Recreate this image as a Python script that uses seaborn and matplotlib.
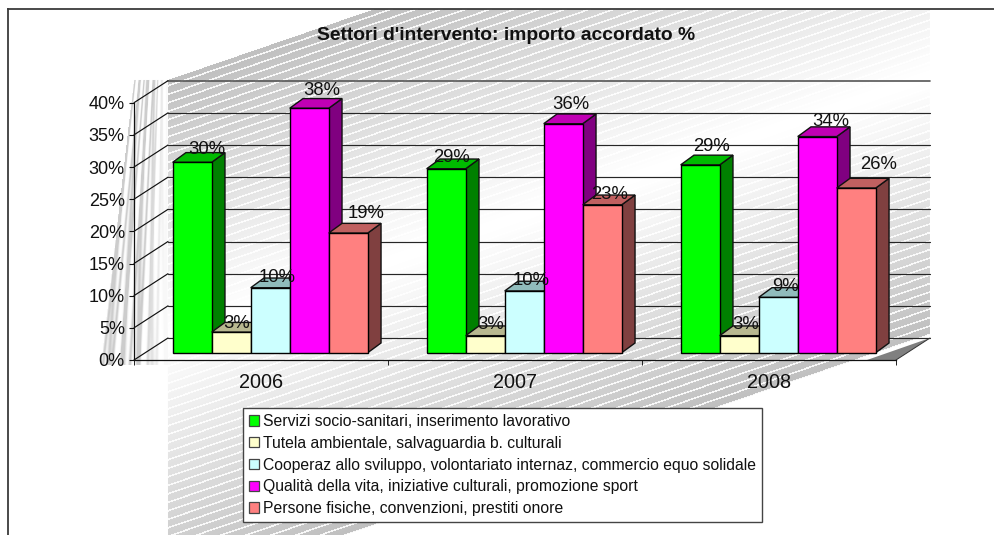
import numpy as np
import pandas as pd
import matplotlib
matplotlib.use("Agg")
import matplotlib.pyplot as plt
import matplotlib.transforms as mtrans
from matplotlib.patches import Polygon
import seaborn as sns

anni = ["2006", "2007", "2008"]
settori = [
    "Servizi socio-sanitari, inserimento lavorativo",
    "Tutela ambientale, salvaguardia b. culturali",
    "Cooperaz allo sviluppo, volontariato internaz, commercio equo solidale",
    "Qualità della vita, iniziative culturali, promozione sport",
    "Persone fisiche, convenzioni, prestiti onore",
]
servizi = [29.6, 28.6, 29.2]
tutela = [3.2, 2.65, 2.65]
cooperaz = [10.1, 9.6, 8.6]
qualita = [38.0, 35.6, 33.6]
persone = [18.6, 23.0, 25.6]
serie = [servizi, tutela, cooperaz, qualita, persone]

col_front = ["#00ff00", "#ffffcc", "#ccffff", "#ff00ff", "#ff8080"]
col_top = ["#00bb00", "#b8b890", "#90bcbc", "#c000b4", "#c06060"]
col_side = ["#008000", "#808066", "#668080", "#800080", "#804040"]
# label offsets from bar top-centre, pixels (one row per series, one column per year)
lab_dx = [[14, 5, 11], [5, 5, 6], [6, 6, 6.5], [12, 6.5, 13], [17, 6.5, 21.7]]
lab_dy = [[13, 11, 18], [9, 10.7, 10.7], [10, 10, 10.7], [17.6, 19, 15], [20, 10, 24]]

W, H = 995, 535
DPI = 100
sns.set_theme(style="ticks")
plt.rcParams["font.family"] = ["Liberation Sans", "DejaVu Sans"]
fig = plt.figure(figsize=(W / DPI, H / DPI), dpi=DPI, facecolor="white")

# ---- textured backdrop (decoration only)
yy, xx = np.mgrid[0:H, 0:W] + 0.5
img = np.ones((H, W))
band = (yy + 0.343 * (xx - 168) - 338) / 258
stripe = ((yy + 0.343 * (xx - 168)) % 8.5) < 1.7
tex = 1 - 0.25 * np.clip(np.abs(band), 0, 1) ** 1.1
tex = np.where(stripe, 1 - 0.03 * np.abs(band), tex)
inside = (xx >= 168) & (xx <= 930) & (np.abs(band) <= 1) & (yy >= 9)
img[inside] = tex[inside]
w_side = 34 + 33 * (yy - 80) / 285
u = (168 - xx) / w_side
side = (xx < 168) & (u <= 1) & (yy >= 80) & (yy <= 365)
streak = (0.5 + 0.5 * np.sin(u * 47)) ** 3 + (0.5 + 0.5 * np.sin(u * 29 + 1.3 + yy / 60)) ** 4
side_v = 1 - 0.2 * np.clip(streak, 0, 1) * np.clip(u * 2.4, 0.15, 1)
img[side] = side_v[side]
bg = fig.add_axes([0, 0, 1, 1], zorder=0)
bg.imshow(img, cmap="gray", vmin=0, vmax=1, extent=(0, W, H, 0), aspect="auto",
          interpolation="bilinear")
bg.add_patch(Polygon([(867, 360), (896, 360), (930, 338)], closed=True,
                     facecolor="#808080", edgecolor="none"))
bg.set_xlim(0, W)
bg.set_ylim(H, 0)
bg.axis("off")
for xs, ys in (([8, 8], [9, H]), ([8, W], [9, 9])):
    bg.plot(xs, ys, color="#3a3a3a", lw=1.3, clip_on=False, solid_capstyle="projecting")

# ---- chart axes: the front plane of the 3-D box
ax = fig.add_axes([134 / W, 1 - 360 / H, 762 / W, 257.3 / H], zorder=1)
ax.patch.set_alpha(0)
df = pd.DataFrame(
    [(a, s, v[i]) for s, v in zip(settori, serie) for i, a in enumerate(anni)],
    columns=["anno", "settore", "valore"],
)
sns.barplot(data=df, x="anno", y="valore", hue="settore", order=anni, hue_order=settori,
            palette=col_front, width=0.768, gap=0, saturation=1, edgecolor="black",
            linewidth=1.0, errorbar=None, ax=ax)
ax.set_xlim(-0.5, 2.5)
ax.set_ylim(0, 40)
ax.set_xlabel("")
ax.set_ylabel("")

px_x = 254.0  # pixels per category
px_y = 257.3 / 40  # pixels per percent
wall_dx, wall_dy = 34 / px_x, 22 / px_y
depth_dx, depth_dy = 13.3 / px_x, 9.7 / px_y

# walls: grid lines on the side and back planes
yticks = list(range(0, 45, 5))
for y in yticks:
    col, lw = ("#555555", 1.2) if y == 40 else ("#262626", 0.85)
    ax.plot([-0.5 + wall_dx, 2.5 + wall_dx], [y + wall_dy] * 2, color=col, lw=lw,
            clip_on=False, zorder=1)
    ax.plot([-0.5, -0.5 + wall_dx], [y, y + wall_dy], color="#111111", lw=0.85,
            clip_on=False, zorder=1)
ax.plot([2.5, 2.5 + wall_dx], [0, wall_dy], color="#333333", lw=0.7, clip_on=False, zorder=1)

# bars stand a little behind the front plane
bar_trans = mtrans.offset_copy(ax.transData, fig=fig, x=9.2, y=7.3, units="dots")
z = 3
for s, cont in enumerate(ax.containers):
    for i, bar in enumerate(cont):
        x0, w, h = bar.get_x(), bar.get_width(), bar.get_height()
        x1 = x0 + w
        edge = dict(edgecolor="#111111", linewidth=1.0, clip_on=False, transform=bar_trans,
                    joinstyle="miter")
        ax.add_patch(Polygon([(x1, 0), (x1 + depth_dx, depth_dy), (x1 + depth_dx, h + depth_dy), (x1, h)],
                             closed=True, facecolor=col_side[s], zorder=z + i * 100, **edge))
        ax.add_patch(Polygon([(x0, h), (x0 + depth_dx, h + depth_dy), (x1 + depth_dx, h + depth_dy), (x1, h)],
                             closed=True, facecolor=col_top[s], zorder=z + i * 100 + 1, **edge))
        bar.set_transform(bar_trans)
        bar.set_clip_on(False)
        bar.set_zorder(z + i * 100 + 2)
        ax.annotate(f"{h:.0f}%", xy=(x0 + w / 2, h), xycoords=bar_trans,
                    xytext=(lab_dx[s][i] + 0.8, lab_dy[s][i]), textcoords="offset pixels",
                    ha="center", va="center", fontsize=13.3, color="#111111",
                    zorder=1000, annotation_clip=False)
    z += 3

# axes furniture
ax.set_yticks(yticks)
ax.set_yticklabels([f"{y}%" for y in yticks], fontsize=13, color="#111111")
ax.set_xticks([-0.5, 0.5, 1.5, 2.5])
ax.set_xticklabels([])
ax.set_xticks([0, 1, 2], minor=True)
ax.set_xticklabels(anni, minor=True, fontsize=14.3, color="#111111")
ax.tick_params(axis="x", which="major", length=3.6, width=0.7, color="#222222")
ax.tick_params(axis="x", which="minor", length=0, pad=9)
ax.tick_params(axis="y", length=3.6, width=0.8, color="#111111", pad=3)
for name in ("top", "right"):
    ax.spines[name].set_visible(False)
for name in ("left", "bottom"):
    ax.spines[name].set_color("#111111")
    ax.spines[name].set_linewidth(0.9)

# title
fig.text(506 / W, 1 - 35.5 / H, "Settori d'intervento: importo accordato %", ha="center",
         va="center", fontsize=13.9, fontweight="bold", color="#111111", zorder=5)

# legend
handles, labels = ax.get_legend_handles_labels()
leg = ax.legend(handles, labels, loc="upper left",
                bbox_to_anchor=(243 / W, 1 - 408 / H), bbox_transform=fig.transFigure,
                borderaxespad=0, fontsize=11.33, frameon=True, fancybox=False,
                facecolor="white", framealpha=1, edgecolor="#444444",
                handlelength=0.65, handleheight=0.65, handletextpad=0.25,
                labelspacing=0.43, borderpad=0.38, title=None)
leg.get_frame().set_linewidth(1.0)
leg.set_zorder(2000)
for t in leg.get_texts():
    t.set_color("#111111")
for h in leg.legend_handles:
    h.set_edgecolor("#444444")
    h.set_linewidth(0.9)

fig.savefig("out.png", dpi=DPI, facecolor="white")
